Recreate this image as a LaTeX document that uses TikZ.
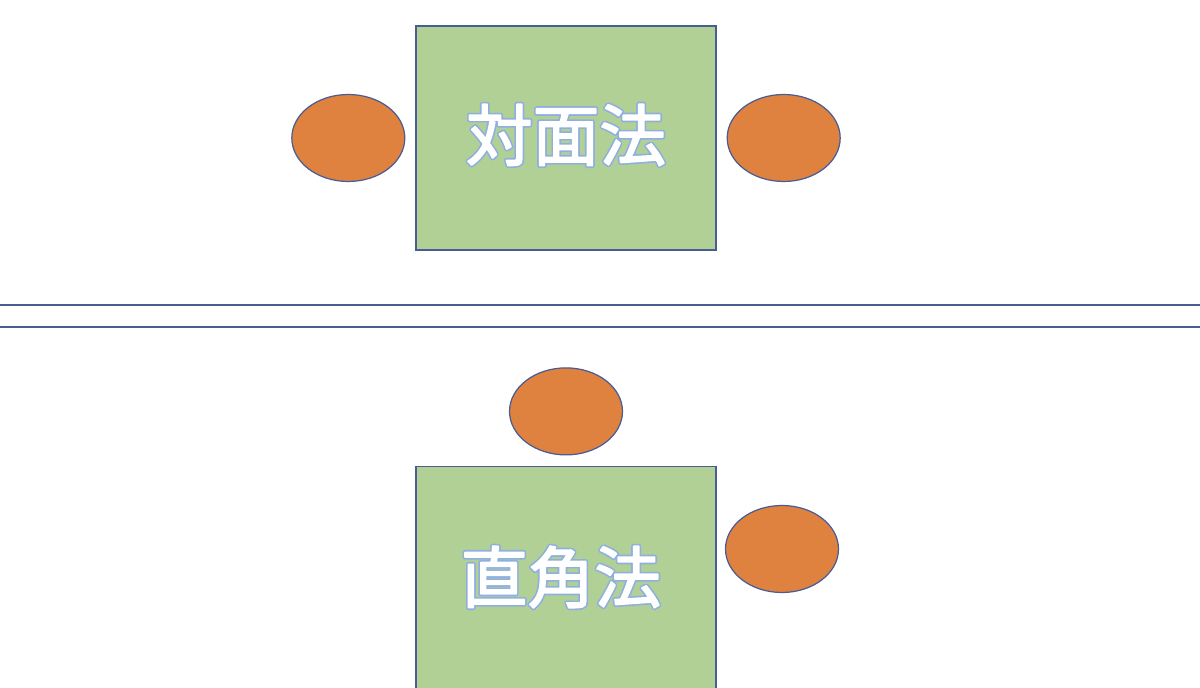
\documentclass[tikz,border=0pt]{standalone}
\usepackage{fontspec}
\newfontfamily\cjk{Noto Sans CJK JP}
\usetikzlibrary{positioning,shapes.geometric}
\definecolor{tablegreen}{HTML}{B1D095}
\definecolor{seatorange}{HTML}{E0823F}
\definecolor{edgeblue}{HTML}{4A5C94}

% white letters with a light blue rim: wide blue outline under, white on top
\newcommand{\rimtext}[1]{%
  \rlap{\special{pdf:literal direct 1 Tr 2.8 w 1 j 0.56 0.69 0.87 RG}#1}%
  \special{pdf:literal direct 2 Tr 0.9 w 1 j 1 1 1 RG}#1\special{pdf:literal direct 0 Tr}}

\begin{document}
\begin{tikzpicture}[x=0.02cm,y=-0.02cm,
	table/.style={rectangle,draw=edgeblue,line width=0.7pt,fill=tablegreen,minimum width=6cm,minimum height=4.48cm,inner sep=0pt},
	seat/.style={ellipse,draw=edgeblue,line width=0.7pt,fill=seatorange,minimum width=2.26cm,minimum height=1.74cm,inner sep=0pt},
	label/.style={text=white,font=\cjk\fontsize{38}{38}\selectfont},
	divider/.style={draw=edgeblue,line width=0.6pt}]
	\clip (0,0) rectangle (1200,688);
	\useasboundingbox (0,0) rectangle (1200,688);
	\fill[white] (0,0) rectangle (1200,688);

	% top: facing
	\node[table] (tA) at (566,138) {};
	\node[seat] (sL) [left=0.2cm of tA] {};
	\node[seat] (sR) [right=0.2cm of tA] {};
	\node[label] (lA) at (566,135) {\rimtext{対面法}};

	% dividers
	\coordinate (d1a) at (0,305);
	\coordinate (d1b) at (1200,305);
	\coordinate (d2a) at (0,327);
	\coordinate (d2b) at (1200,327);
	\path[divider] (d1a) -- (d1b);
	\path[divider] (d2a) -- (d2b);

	% bottom: right angle
	\node[table,minimum height=4.6cm,anchor=north] (tB) at (566,466) {};
	\node[seat] (sT) [above=0.21cm of tB] {};
	\node[seat] (sS) at (782,549) {};
	\node[label] (lB) at (561,577) {\rimtext{直角法}};
\end{tikzpicture}
\end{document}
